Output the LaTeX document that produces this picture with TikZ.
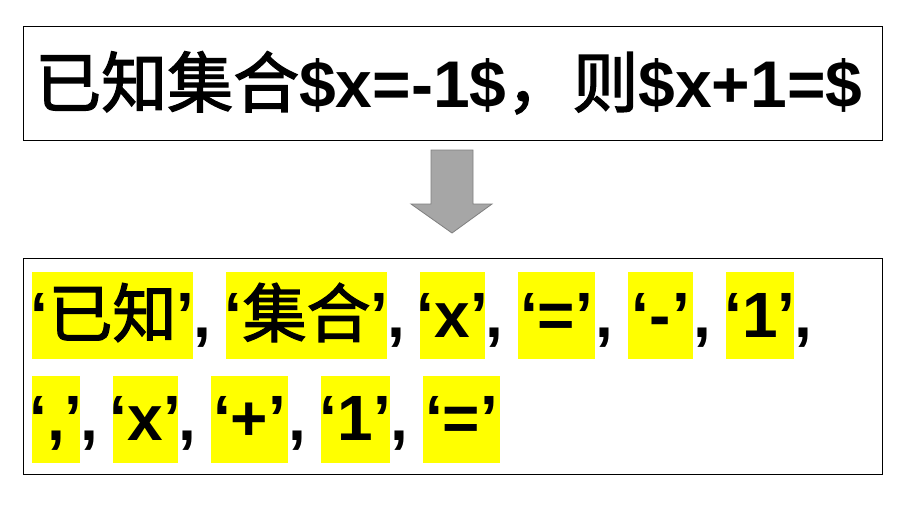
\documentclass[tikz,border=0pt]{standalone}
\usepackage{fontspec}
\setmainfont{Liberation Sans}
\newfontfamily\cjkfont[FakeBold=2]{Noto Sans CJK SC}
\newcommand\cjkt[1]{{\cjkfont\mdseries #1}}
\newcommand\tokq[2]{\makebox[#1]{‘\hfill#2\hfill’}}
\definecolor{tokyellow}{rgb}{1,1,0}
\definecolor{arrowfill}{HTML}{A6A6A6}
\definecolor{arrowline}{HTML}{7F7F7F}
\begin{document}
\begin{tikzpicture}[x=1pt,y=-1pt,
  frame/.style={draw=black,line width=1.3pt},
  tok/.style={fill=tokyellow,draw=none,inner sep=0pt,anchor=north west,minimum height=87pt},
  txt/.style={inner sep=0pt,anchor=base,font=\bfseries\fontsize{64}{70}\selectfont},
  sepc/.style={inner sep=0pt,anchor=base west,font=\bfseries\fontsize{64}{70}\selectfont},
  blockarrow/.style={draw=arrowline,fill=arrowfill,line width=0.8pt,line join=miter}]
\useasboundingbox[fill=white] (0,0) rectangle (909,515);
% top box
\node[frame,inner sep=0pt,anchor=north west,minimum width=859pt,minimum height=114pt] (topbox) at (23,26) {};
\node[txt,anchor=base west,font=\bfseries\fontsize{66}{70}\selectfont] (question) at (35,107)
  {\cjkt{已知集合}\$x=-1\$\cjkt{，则}\$x+1=\$};
% block arrow
\path[blockarrow] (431,150) -- (473,150) -- (473,204) -- (492,204) -- (452,233) -- (411,204) -- (431,204) -- cycle;
% bottom box
\node[frame,inner sep=0pt,anchor=north west,minimum width=859pt,minimum height=216pt] (botbox) at (23,258) {};
% row 1 tokens
\node[tok,minimum width=161pt] (a1) at (32,272) {};
\node[tok,minimum width=161pt] (a2) at (226,272) {};
\node[tok,minimum width=65pt] (a3) at (420,272) {};
\node[tok,minimum width=77pt] (a4) at (518,272) {};
\node[tok,minimum width=65pt] (a5) at (628,272) {};
\node[tok,minimum width=68pt] (a6) at (726,272) {};
\node[txt] (ta1) at (112.5,337) {\tokq{155pt}{\cjkt{已知}}};
\node[txt] (ta2) at (306.5,337) {\tokq{155pt}{\cjkt{集合}}};
\node[txt] (ta3) at (452.5,337) {\tokq{59pt}{x}};
\node[txt] (ta4) at (556.5,337) {\tokq{71pt}{=}};
\node[txt] (ta5) at (660.5,337) {\tokq{59pt}{-}};
\node[txt] (ta6) at (760,337) {\tokq{62pt}{1}};
\node[sepc] (ca1) at (193,337) {,};
\node[sepc] (ca2) at (387,337) {,};
\node[sepc] (ca3) at (485,337) {,};
\node[sepc] (ca4) at (595,337) {,};
\node[sepc] (ca5) at (693,337) {,};
\node[sepc] (ca6) at (794,337) {,};
% row 2 tokens
\node[tok,minimum width=48pt] (b1) at (32,376) {};
\node[tok,minimum width=65pt] (b2) at (113,376) {};
\node[tok,minimum width=77pt] (b3) at (211,376) {};
\node[tok,minimum width=69pt] (b4) at (321,376) {};
\node[tok,minimum width=77pt] (b5) at (423,376) {};
\node[txt] (tb1) at (56,440) {\tokq{44pt}{,}};
\node[txt] (tb2) at (145.5,440) {\tokq{59pt}{x}};
\node[txt] (tb3) at (249.5,440) {\tokq{71pt}{+}};
\node[txt] (tb4) at (355.5,440) {\tokq{63pt}{1}};
\node[txt] (tb5) at (461.5,440) {\tokq{71pt}{=}};
\node[sepc] (cb1) at (80,440) {,};
\node[sepc] (cb2) at (178,440) {,};
\node[sepc] (cb3) at (288,440) {,};
\node[sepc] (cb4) at (390,440) {,};
\end{tikzpicture}
\end{document}
